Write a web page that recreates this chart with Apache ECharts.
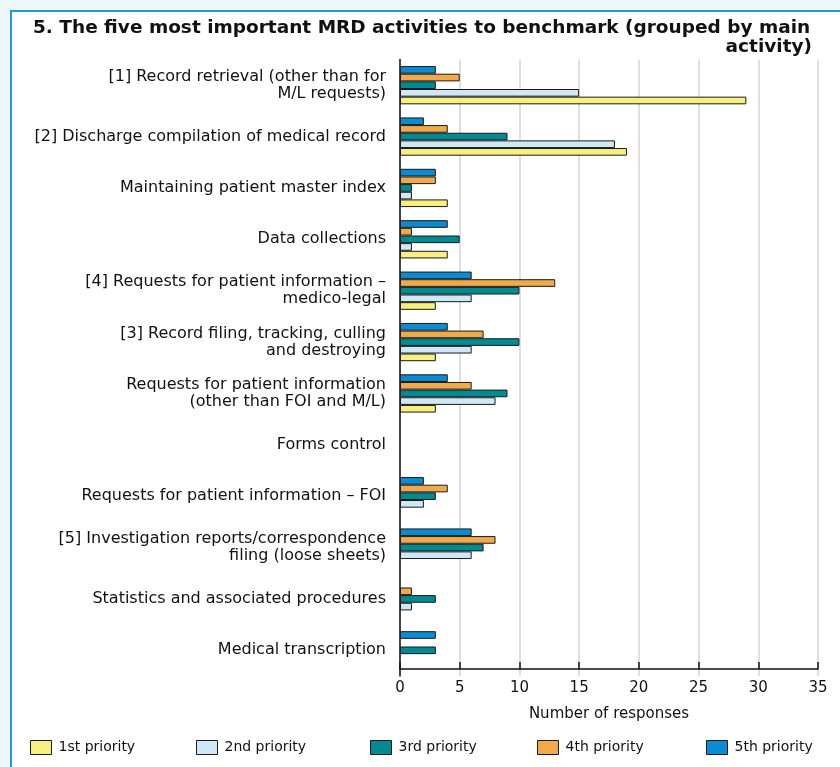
<!DOCTYPE html>
<html>
<head>
<meta charset="utf-8">
<script src="https://cdn.jsdelivr.net/npm/echarts@6/dist/echarts.min.js"></script>
<style>
  html, body { margin: 0; padding: 0; background: #eef7fa; }
  #main { width: 840px; height: 767px; }
</style>
</head>
<body>
<div id="main"></div>
<script>
// categories, top to bottom
var categories = [
    '[1] Record retrieval (other than for\nM/L requests)',
    '[2] Discharge compilation of medical record',
    'Maintaining patient master index',
    'Data collections',
    '[4] Requests for patient information –\nmedico-legal',
    '[3] Record filing, tracking, culling\nand destroying',
    'Requests for patient information\n(other than FOI and M/L)',
    'Forms control',
    'Requests for patient information – FOI',
    '[5] Investigation reports/correspondence\nfiling (loose sheets)',
    'Statistics and associated procedures',
    'Medical transcription'
];
var seriesNames = ['1st priority', '2nd priority', '3rd priority', '4th priority', '5th priority'];
var first  = [29, 19, 4, 4, 3, 3, 3, 0, 0, 0, 0, 0];
var second = [15, 18, 1, 1, 6, 6, 8, 0, 2, 6, 1, 0];
var third  = [3, 9, 1, 5, 10, 10, 9, 0, 3, 7, 3, 3];
var fourth = [5, 4, 3, 1, 13, 7, 6, 0, 4, 8, 1, 0];
var fifth  = [3, 2, 3, 4, 6, 4, 4, 0, 2, 6, 0, 3];
var xTicks = [0, 5, 10, 15, 20, 25, 30, 35];

var colors = ['#f7f07e', '#d0e7f5', '#008b93', '#f0aa4a', '#0b8bd2'];
var values = [first, second, third, fourth, fifth];
var font = 'DejaVu Sans';

var myChart = echarts.init(document.getElementById('main'));

// 5th priority drawn at the top of each group, 1st at the bottom
var series = [];
for (var i = values.length - 1; i >= 0; i--) {
    series.push({
        name: seriesNames[i],
        type: 'bar',
        barGap: 0,
        barCategoryGap: '25.5%',
        itemStyle: { color: colors[i], borderColor: '#1a1a1a', borderWidth: 1 },
        data: values[i].map(function (v) { return v === 0 ? '-' : v; })
    });
}

var legendLeft = [25, 191, 365, 532, 701];
var legends = seriesNames.map(function (n, i) {
    return {
        data: [n],
        left: legendLeft[i],
        top: 735,
        itemWidth: 21,
        itemHeight: 14,
        itemGap: 0,
        icon: 'rect',
        itemStyle: { borderColor: '#1a1a1a', borderWidth: 1 },
        textStyle: { fontFamily: font, fontSize: 14, color: '#111', padding: [0, 0, 0, 2] }
    };
});

option = {
    backgroundColor: '#eef7fa',
    animation: false,
    graphic: [{
        type: 'rect',
        shape: { x: 11, y: 11, width: 840, height: 770 },
        style: { fill: '#fff', stroke: '#1b9ad6', lineWidth: 2 },
        z: -10
    }],
    title: [{
        text: '5. The five most important MRD activities to benchmark (grouped by main',
        left: 28,
        top: 14,
        textStyle: { fontFamily: font, fontSize: 18.5, fontWeight: 'bold', color: '#111' }
    }, {
        text: 'activity)',
        right: 23,
        top: 33,
        textStyle: { fontFamily: font, fontSize: 18.5, fontWeight: 'bold', color: '#111' }
    }],
    legend: legends,
    grid: { left: 400, right: 22, top: 59.5, bottom: 91, containLabel: false },
    xAxis: {
        type: 'value',
        min: 0,
        max: 35,
        interval: 5,
        offset: -7,
        name: 'Number of responses',
        nameLocation: 'middle',
        nameGap: 38,
        nameTextStyle: { fontFamily: font, fontSize: 15, color: '#111' },
        axisLine: { show: true, lineStyle: { color: '#111', width: 1.5 } },
        axisTick: { show: true, inside: true, length: 7, lineStyle: { color: '#111', width: 1.5 } },
        axisLabel: { fontFamily: font, fontSize: 15, color: '#111', margin: 12 },
        splitLine: { show: true, lineStyle: { color: '#d4d4d8', width: 1.5 } }
    },
    yAxis: {
        type: 'category',
        inverse: true,
        data: categories,
        axisLine: { show: true, lineStyle: { color: '#111', width: 1.5 } },
        axisTick: { show: false },
        axisLabel: {
            fontFamily: font, fontSize: 16, color: '#111', margin: 14,
            lineHeight: 17, align: 'right', padding: [0, 0, 22, 0]
        },
        splitLine: { show: false }
    },
    series: series
};

myChart.setOption(option);
</script>
</body>
</html>
